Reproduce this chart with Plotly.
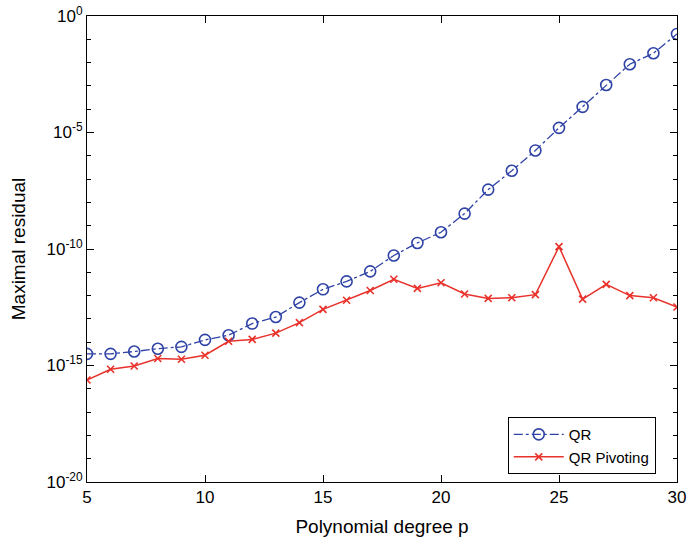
import plotly.graph_objects as go

degrees = list(range(5, 31))
qr_exp = [-14.5, -14.5, -14.4, -14.28, -14.2, -13.9, -13.7, -13.2, -12.92, -12.3,
          -11.73, -11.39, -10.96, -10.28, -9.74, -9.28, -8.48, -7.45, -6.64, -5.77,
          -4.8, -3.9, -2.96, -2.07, -1.6, -0.77]
piv_exp = [-15.62, -15.16, -15.02, -14.7, -14.73, -14.56, -13.96, -13.88, -13.61, -13.16,
           -12.59, -12.2, -11.78, -11.3, -11.69, -11.45, -11.93, -12.12, -12.09, -11.96,
           -9.9, -12.15, -11.52, -12.0, -12.09, -12.49]
qr = [10 ** e for e in qr_exp]
piv = [10 ** e for e in piv_exp]

x_ticks = [5, 10, 15, 20, 25, 30]
y_tick_exps = [0, -5, -10, -15, -20]
y_ticktext = ["10<sup>%d</sup>" % e for e in y_tick_exps]
minor_vals = [10 ** (-k) for k in range(0, 21)]

blue = "#2f42a6"
red = "#e8322b"
ff = "Liberation Sans, Arial, sans-serif"

fig = go.Figure()
fig.add_trace(go.Scatter(
    x=degrees, y=qr, name="QR", mode="lines+markers",
    line=dict(color=blue, width=1.3, dash="dashdot"),
    marker=dict(symbol="circle-open", size=11, color=blue, line=dict(width=1.6, color=blue)),
))
fig.add_trace(go.Scatter(
    x=degrees, y=piv, name="QR Pivoting", mode="lines+markers",
    line=dict(color=red, width=1.5),
    marker=dict(symbol="x-thin-open", size=7, color=red, line=dict(width=1.6, color=red)),
))

fig.update_layout(
    width=687, height=537,
    margin=dict(l=87, r=10, t=16, b=55),
    paper_bgcolor="white", plot_bgcolor="white",
    font=dict(family=ff, size=16, color="black"),
    showlegend=True,
    legend=dict(
        x=0.964, y=0.017, xanchor="right", yanchor="bottom",
        bordercolor="black", borderwidth=1, bgcolor="white",
        font=dict(family=ff, size=15, color="black"),
        tracegroupgap=0, itemwidth=50,
    ),
)
fig.update_xaxes(
    range=[5, 30], tickvals=x_ticks, ticks="inside", ticklen=7, tickwidth=1, tickcolor="black",
    showline=True, linecolor="black", linewidth=1, mirror="ticks",
    showgrid=False, zeroline=False, automargin=False,
    title=dict(text="Polynomial degree p", font=dict(size=19, color="black")),
    tickfont=dict(size=17, color="black"),
)
fig.update_yaxes(
    type="log", range=[-20, 0],
    tickvals=[10 ** e for e in y_tick_exps], ticktext=y_ticktext,
    ticks="inside", ticklen=7, tickwidth=1, tickcolor="black",
    minor=dict(tickvals=minor_vals, ticks="inside", ticklen=4, tickcolor="black", showgrid=False),
    showline=True, linecolor="black", linewidth=1, mirror="ticks",
    showgrid=False, zeroline=False, automargin=False,
    title=dict(text="Maximal residual", font=dict(size=19, color="black")),
    tickfont=dict(size=17, color="black"),
)

fig.write_html(
    "out.html",
    config={"displayModeBar": False},
    post_script="document.body.style.margin='0';document.body.style.overflow='hidden';",
)
